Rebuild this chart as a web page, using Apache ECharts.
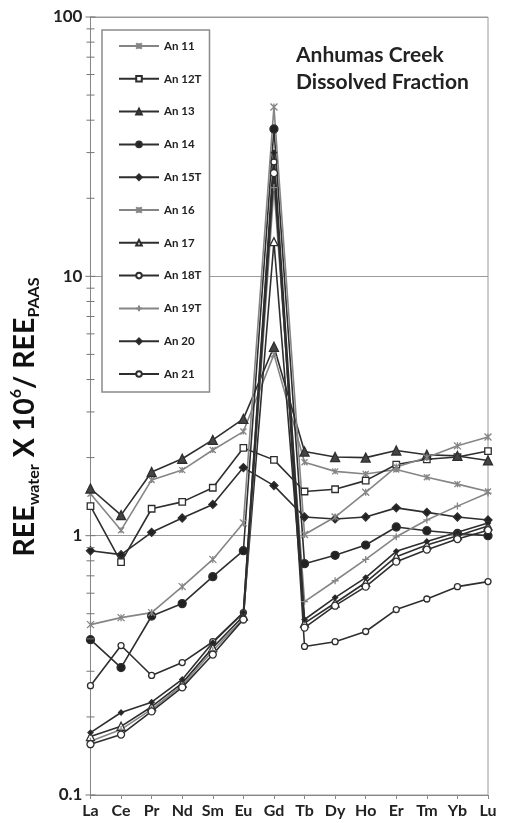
<!DOCTYPE html>
<html>
<head>
<meta charset="utf-8">
<script src="https://cdn.jsdelivr.net/npm/echarts@6/dist/echarts.min.js"></script>
<style>html,body{margin:0;padding:0;background:#fff;}#c{width:505px;height:823px;}</style>
</head>
<body>
<div id="c"></div>
<script>
const categories = ['La','Ce','Pr','Nd','Sm','Eu','Gd','Tb','Dy','Ho','Er','Tm','Yb','Lu'];
const yTickLabels = ['0.1','1','10','100'];
const majorTicks = [0.1, 1, 10, 100];
const minorTicks = [0.2,0.3,0.4,0.5,0.6,0.7,0.8,0.9,2,3,4,5,6,7,8,9,20,30,40,50,60,70,80,90];

const an11  = [1.45, 1.05, 1.64, 1.79, 2.14, 2.52, 5.0, 1.92, 1.77, 1.73, 1.80, 1.68, 1.58, 1.48];
const an12T = [1.30, 0.79, 1.27, 1.35, 1.53, 2.18, 1.96, 1.48, 1.51, 1.63, 1.88, 1.97, 2.01, 2.12];
const an13  = [1.52, 1.20, 1.76, 1.98, 2.34, 2.82, 5.35, 2.11, 2.01, 2.00, 2.13, 2.05, 2.03, 1.95];
const an14  = [0.397, 0.31, 0.49, 0.547, 0.695, 0.875, 37, 0.78, 0.84, 0.92, 1.08, 1.045, 1.02, 1.0];
const an15T = [0.875, 0.845, 1.03, 1.17, 1.32, 1.83, 1.56, 1.18, 1.16, 1.18, 1.28, 1.23, 1.18, 1.15];
const an16  = [0.454, 0.483, 0.505, 0.636, 0.81, 1.12, 45, 1.01, 1.18, 1.47, 1.84, 2.0, 2.22, 2.40];
const an17  = [0.168, 0.184, 0.219, 0.27, 0.37, 0.49, 13.6, 0.46, 0.55, 0.66, 0.83, 0.92, 1.0, 1.09];
const an18T = [0.264, 0.377, 0.289, 0.324, 0.39, 0.505, 27.6, 0.374, 0.39, 0.427, 0.519, 0.57, 0.636, 0.665];
const an19T = [0.161, 0.179, 0.214, 0.265, 0.36, 0.48, 22, 0.557, 0.67, 0.81, 0.99, 1.15, 1.30, 1.46];
const an20  = [0.174, 0.208, 0.228, 0.279, 0.387, 0.505, 30, 0.475, 0.577, 0.689, 0.87, 0.95, 1.03, 1.12];
const an21  = [0.157, 0.171, 0.21, 0.26, 0.348, 0.475, 25, 0.442, 0.537, 0.636, 0.794, 0.883, 0.97, 1.05];

const FONT = 'Lato';
const DARK = '#2e2e2e';
const GRAY = '#858585';
const XPATH = 'path://M0,0L10,10M10,0L0,10M5,0L5,10';
const PLUS = 'path://M5,0L5,10M0,5L10,5';

function mk(name, data, opt) {
  const color = opt.color || DARK;
  return {
    name: name, type: 'line', data: data,
    symbol: opt.symbol, symbolSize: opt.size || 7,
    lineStyle: {color: color, width: opt.lw || 1.6},
    itemStyle: {color: opt.fill || color, borderColor: color, borderWidth: opt.bw || 1.3},
    emphasis: {disabled: true},
    z: opt.z || 3
  };
}

const series = [
  mk('An 11', an11, {symbol: XPATH, color: GRAY, size: 6, fill: 'none'}),
  mk('An 12T', an12T, {symbol: 'rect', fill: '#fff', size: 6.5}),
  mk('An 13', an13, {symbol: 'triangle', fill: '#444', size: 9}),
  mk('An 14', an14, {symbol: 'circle', fill: '#222', size: 8}),
  mk('An 15T', an15T, {symbol: 'diamond', fill: '#222', size: 8}),
  mk('An 16', an16, {symbol: XPATH, color: GRAY, size: 7, fill: 'none'}),
  mk('An 17', an17, {symbol: 'triangle', fill: '#fff', size: 8}),
  mk('An 18T', an18T, {symbol: 'circle', fill: '#fff', size: 6}),
  mk('An 19T', an19T, {symbol: PLUS, color: GRAY, size: 7, fill: 'none'}),
  mk('An 20', an20, {symbol: 'diamond', fill: '#222', size: 5}),
  mk('An 21', an21, {symbol: 'circle', fill: '#fff', size: 7})
];

const tickData = majorTicks.map(v => [0, v, 5]).concat(minorTicks.map(v => [0, v, 4]));
series.push({
  type: 'custom', name: 'ticks', silent: true, z: 5,
  data: tickData,
  renderItem: function (params, api) {
    const p = api.coord([api.value(0), api.value(1)]);
    const len = api.value(2);
    return {type: 'line', shape: {x1: p[0] - len, y1: p[1], x2: p[0] + len, y2: p[1]},
            style: {stroke: '#777', lineWidth: 1}};
  }
});

const chart = echarts.init(document.getElementById('c'), null, {renderer: 'canvas'});
chart.setOption({
  animation: false,
  backgroundColor: '#fff',
  grid: {left: 82, right: 17, top: 17, bottom: 28, show: true, borderColor: '#9a9a9a', borderWidth: 1},
  title: {
    text: 'Anhumas Creek\nDissolved Fraction', left: 291, top: 37,
    textStyle: {fontFamily: FONT, fontSize: 21, fontWeight: 'bold', color: '#222', lineHeight: 27}
  },
  legend: {
    data: ['An 11','An 12T','An 13','An 14','An 15T','An 16','An 17','An 18T','An 19T','An 20','An 21'],
    orient: 'vertical', left: 102, top: 30,
    padding: [10, 8, 12, 16],
    itemWidth: 40, itemHeight: 7, itemGap: 20.8,
    backgroundColor: '#fff', borderColor: '#8a8a8a', borderWidth: 1.5,
    textStyle: {fontFamily: FONT, fontSize: 11.5, fontWeight: 'bold', color: '#222', lineHeight: 12},
    selectedMode: false, z: 10
  },
  xAxis: {
    type: 'category', data: categories, boundaryGap: false,
    axisLine: {lineStyle: {color: '#888', width: 1}},
    axisTick: {show: true, length: 4, lineStyle: {color: '#888'}},
    axisLabel: {fontFamily: FONT, fontSize: 16, fontWeight: 'bold', color: '#222', margin: 8, interval: 0},
    splitLine: {show: false}
  },
  yAxis: {
    type: 'log', logBase: 10, min: 0.1, max: 100,
    axisLine: {show: true, lineStyle: {color: '#888', width: 1}},
    axisTick: {show: false},
    axisLabel: {fontFamily: FONT, fontSize: 17, fontWeight: 'bold', color: '#222', margin: 8,
      formatter: function (v) { const s = String(+v.toPrecision(3)); return yTickLabels.indexOf(s) >= 0 ? s : ''; }},
    splitLine: {show: true, lineStyle: {color: '#9a9a9a', width: 1}},
    minorTick: {show: false},
    name: '{a|REE}{b|water}{a| X 10}{c|6}{a|/ REE}{b|PAAS}',
    nameLocation: 'middle', nameRotate: 90, nameGap: 36,
    nameTextStyle: {
      padding: [0, 22, 0, 0],
      rich: {
        a: {fontFamily: FONT, fontSize: 28.5, fontWeight: 'bold', color: '#111', lineHeight: 34},
        b: {fontFamily: FONT, fontSize: 16, fontWeight: 'bold', color: '#111', lineHeight: 14, verticalAlign: 'bottom'},
        c: {fontFamily: FONT, fontSize: 16, fontWeight: 'bold', color: '#111', lineHeight: 14, verticalAlign: 'top'}
      }
    }
  },
  series: series
});
</script>
</body>
</html>
